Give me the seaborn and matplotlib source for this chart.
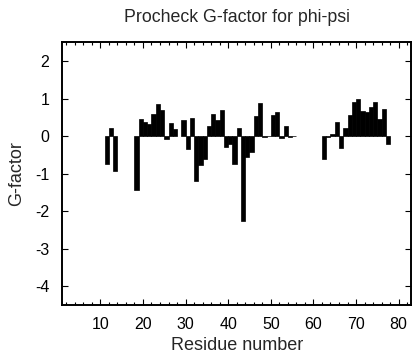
import numpy as np
import pandas as pd
import matplotlib
matplotlib.use("Agg")
import matplotlib.pyplot as plt
import seaborn as sns
from matplotlib.ticker import MultipleLocator

# residue numbers and their phi-psi G-factor
residues = [11, 12, 13, 18, 19, 20, 21, 22, 23, 24, 25, 26, 27, 29, 30,
            31, 32, 33, 34, 35, 36, 37, 38, 39, 40, 41, 42, 43, 44, 45,
            46, 47, 48, 49, 50, 51, 52, 53, 54, 55, 62, 63, 64, 65, 66,
            67, 68, 69, 70, 71, 72, 73, 74, 75, 76, 77]
gfactor = [-0.74, 0.23, -0.93, -1.43, 0.45, 0.37, 0.32, 0.59, 0.86, 0.71, -0.08, 0.35, 0.19, 0.42, -0.34,
           0.49, -1.20, -0.78, -0.60, 0.27, 0.59, 0.42, 0.70, -0.30, -0.20, -0.74, 0.22, -2.26, -0.56, -0.43,
           0.53, 0.88, -0.02, 0.01, 0.56, 0.64, -0.05, 0.27, -0.02, 0.01, -0.62, -0.03, 0.05, 0.39, -0.31,
           0.22, 0.56, 0.91, 1.00, 0.66, 0.64, 0.78, 0.90, 0.47, 0.73, -0.21]
x_ticks = [10, 20, 30, 40, 50, 60, 70, 80]
y_ticks = [-4, -3, -2, -1, 0, 1, 2]

df = pd.DataFrame({"residue": residues, "gfactor": gfactor})
# each residue's bar covers [r, r+1]
df["pos"] = df["residue"] + 0.5

sns.set_style("ticks")
plt.rcParams["font.family"] = ["Liberation Sans", "DejaVu Sans"]
plt.rcParams["axes.unicode_minus"] = False

fig = plt.figure(figsize=(4.16, 3.6), dpi=100)
ax = fig.add_axes([0.149, 0.153, 0.84, 0.729])

sns.barplot(data=df, x="pos", y="gfactor", native_scale=True, width=1,
            color="black", saturation=1, edgecolor="black", linewidth=0.5,
            errorbar=None, ax=ax)

ax.set_xlim(1, 83)
ax.set_ylim(-4.5, 2.5)
ax.set_xticks(x_ticks)
ax.set_xticklabels([str(t) for t in x_ticks])
ax.xaxis.set_minor_locator(MultipleLocator(2))
ax.set_yticks(y_ticks)
ax.set_yticklabels([str(t) for t in y_ticks])

ax.tick_params(which="both", direction="in", top=True, right=True,
               labelsize=11.5, width=0.8, colors="black")
ax.tick_params(which="major", length=4, pad=9)
ax.tick_params(which="minor", length=2)
for s in ax.spines.values():
    s.set_visible(True)
    s.set_linewidth(1.4)
    s.set_color("black")

ax.set_title("Procheck G-factor for phi-psi", fontsize=12.8, pad=15)
ax.set_xlabel("Residue number", fontsize=13, labelpad=3)
ax.set_ylabel("G-factor", fontsize=13, labelpad=7)

fig.savefig("out.png", dpi=100)
